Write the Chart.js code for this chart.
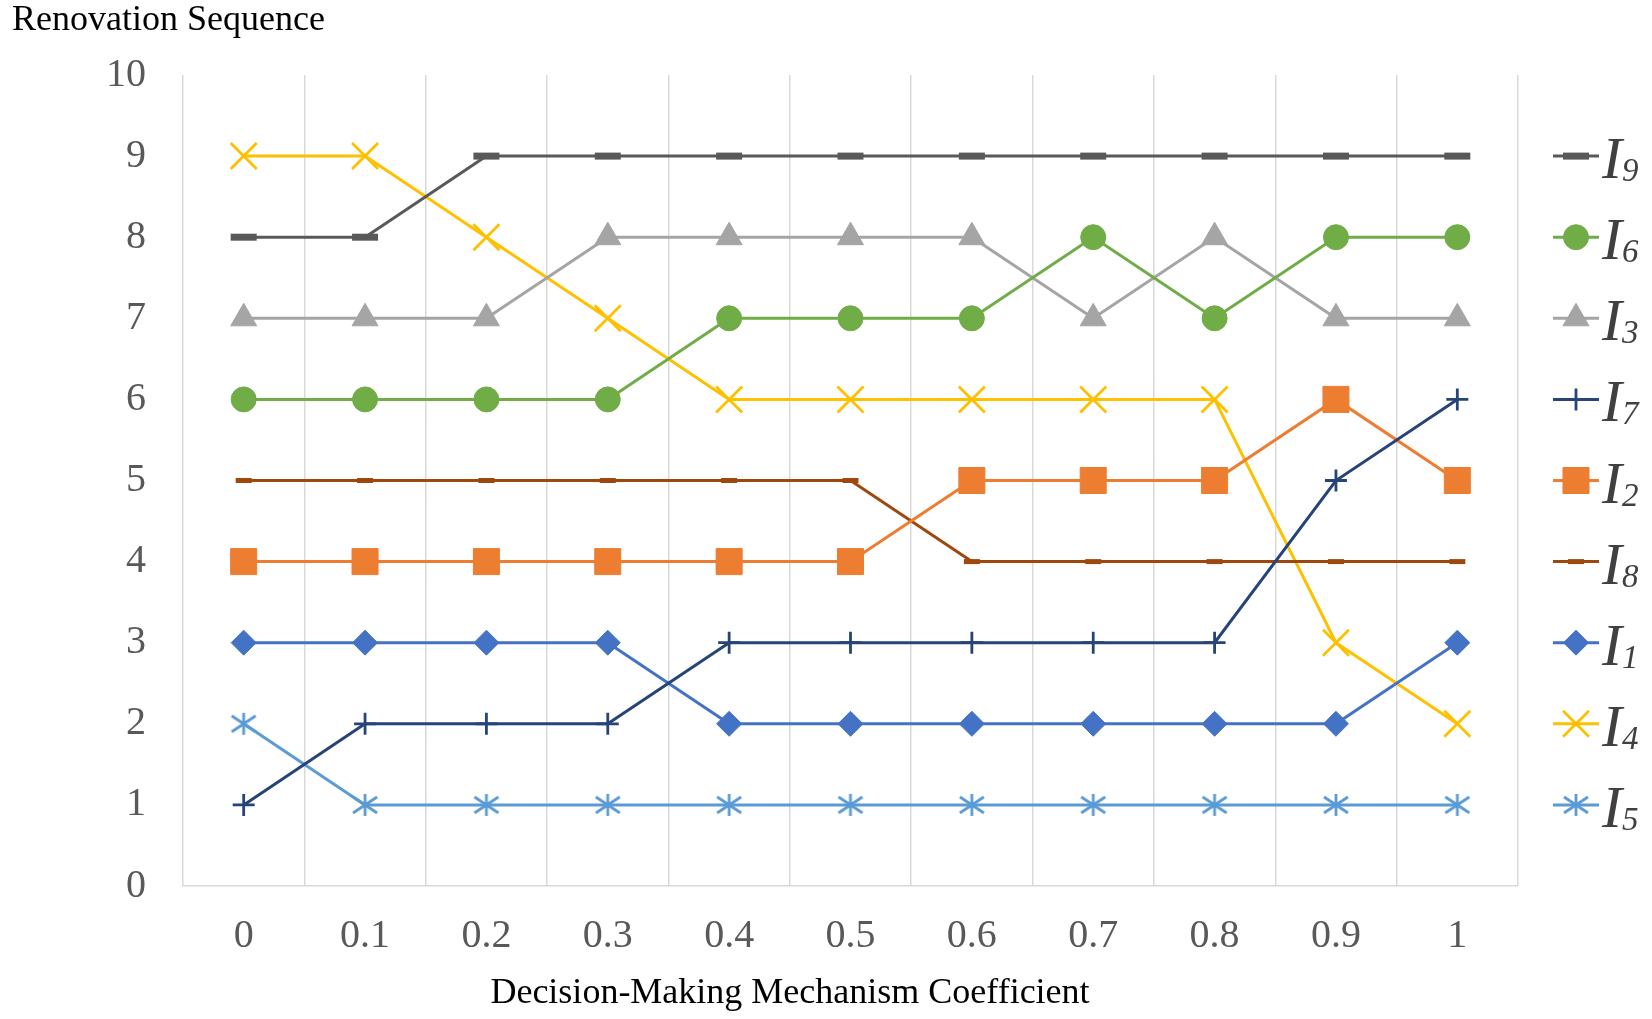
<!DOCTYPE html>
<html>
<head>
<meta charset="utf-8">
<script src="https://cdn.jsdelivr.net/npm/chart.js@4.4.1/dist/chart.umd.min.js"></script>
<style>
  html, body { margin: 0; padding: 0; background: #fff; }
  #wrap { width: 1652px; height: 1019px; }
</style>
</head>
<body>
<div id="wrap"><canvas id="chart" width="1652" height="1019"></canvas></div>
<script>
// x categories (decision-making mechanism coefficient)
const coefficients = ['0', '0.1', '0.2', '0.3', '0.4', '0.5', '0.6', '0.7', '0.8', '0.9', '1'];
const yTicks = [0, 1, 2, 3, 4, 5, 6, 7, 8, 9, 10];

// renovation sequence per item, legend order
const seriesIds = ['9', '6', '3', '7', '2', '8', '1', '4', '5'];
const i9 = [8, 8, 9, 9, 9, 9, 9, 9, 9, 9, 9];
const i6 = [6, 6, 6, 6, 7, 7, 7, 8, 7, 8, 8];
const i3 = [7, 7, 7, 8, 8, 8, 8, 7, 8, 7, 7];
const i7 = [1, 2, 2, 2, 3, 3, 3, 3, 3, 5, 6];
const i2 = [4, 4, 4, 4, 4, 4, 5, 5, 5, 6, 5];
const i8 = [5, 5, 5, 5, 5, 5, 4, 4, 4, 4, 4];
const i1 = [3, 3, 3, 3, 2, 2, 2, 2, 2, 2, 3];
const i4 = [9, 9, 8, 7, 6, 6, 6, 6, 6, 3, 2];
const i5 = [2, 1, 1, 1, 1, 1, 1, 1, 1, 1, 1];

const SERIF = "'Liberation Serif', 'Times New Roman', serif";

// excel style asterisk marker (vertical bar + X)
function asterisk(color) {
    const c = document.createElement('canvas');
    c.width = 28; c.height = 28;
    const g = c.getContext('2d');
    g.strokeStyle = color;
    g.lineWidth = 2.8;
    g.beginPath();
    g.moveTo(14, 3); g.lineTo(14, 25);
    g.moveTo(2, 6); g.lineTo(26, 22);
    g.moveTo(2, 22); g.lineTo(26, 6);
    g.stroke();
    return c;
}

function series(values, color, style, radius, pw) {
    return {
        data: values,
        borderColor: color,
        backgroundColor: color,
        borderWidth: 3,
        pointStyle: style,
        pointRadius: radius,
        pointBorderWidth: pw,
        pointBackgroundColor: color,
        pointBorderColor: color,
        tension: 0,
    };
}

const datasets = [
    series(i9, '#595959', 'line', 13, 7),
    series(i6, '#70ad47', 'circle', 12.5, 1),
    series(i3, '#a5a5a5', 'triangle', 15, 1),
    series(i7, '#264478', 'cross', 11, 2.8),
    series(i2, '#ed7d31', 'rect', 18.4, 1),
    series(i8, '#9e480e', 'line', 8, 5),
    series(i1, '#4472c4', 'rectRot', 12.5, 1),
    series(i4, '#ffc000', 'crossRot', 18.4, 2.8),
    series(i5, '#5b9bd5', asterisk('#5b9bd5'), 12, 1),
];

// titles and legend with subscripted item names
const extras = {
    id: 'extras',
    afterDraw(chart) {
        const ctx = chart.ctx;
        const area = chart.chartArea;
        const y = chart.scales.y;
        ctx.save();
        ctx.fillStyle = '#000';
        ctx.font = '36px ' + SERIF;
        ctx.textBaseline = 'alphabetic';
        ctx.textAlign = 'left';
        ctx.fillText('Renovation Sequence', 12, 30);
        ctx.textAlign = 'center';
        ctx.fillText('Decision-Making Mechanism Coefficient', 790, 1003);

        chart.data.datasets.forEach((ds, i) => {
            const cy = y.getPixelForValue(9 - i);
            const x0 = area.right + 35, x1 = area.right + 81;
            ctx.strokeStyle = ds.borderColor;
            ctx.lineWidth = 3;
            ctx.beginPath();
            ctx.moveTo(x0, cy);
            ctx.lineTo(x1, cy);
            ctx.stroke();
            ctx.fillStyle = ds.pointBackgroundColor;
            ctx.strokeStyle = ds.pointBorderColor;
            ctx.lineWidth = ds.pointBorderWidth;
            Chart.helpers.drawPoint(ctx, {
                pointStyle: ds.pointStyle,
                radius: ds.pointRadius,
                borderWidth: ds.pointBorderWidth,
                rotation: 0,
            }, (x0 + x1) / 2, cy);

            ctx.fillStyle = '#404040';
            ctx.textAlign = 'left';
            ctx.font = 'italic 60px ' + SERIF;
            const tx = area.right + 84;
            ctx.fillText('I', tx, cy + 22);
            const w = ctx.measureText('I').width;
            ctx.font = 'italic 33px ' + SERIF;
            ctx.fillText(seriesIds[i], tx + w, cy + 25);
        });
        ctx.restore();
    }
};

new Chart(document.getElementById('chart'), {
    type: 'line',
    data: { labels: coefficients, datasets },
    options: {
        responsive: false,
        animation: false,
        devicePixelRatio: 1,
        events: [],
        layout: { padding: { top: 75, right: 134, bottom: 33, left: 0 } },
        plugins: {
            legend: { display: false },
            tooltip: { enabled: false },
        },
        scales: {
            x: {
                offset: true,
                grid: { offset: true, color: '#d9d9d9', lineWidth: 1.5, drawTicks: false },
                border: { color: '#d9d9d9', width: 1.5 },
                ticks: { color: '#595959', font: { family: SERIF, size: 40 }, padding: 26, maxRotation: 0 },
            },
            y: {
                min: 0,
                max: 10,
                afterBuildTicks: scale => { scale.ticks = yTicks.map(v => ({ value: v })); },
                afterFit: scale => { scale.width = 183; },
                grid: { display: false, drawTicks: false },
                border: { display: false },
                ticks: { color: '#595959', font: { family: SERIF, size: 40 }, padding: 37 },
            },
        },
    },
    plugins: [extras],
});
</script>
</body>
</html>
